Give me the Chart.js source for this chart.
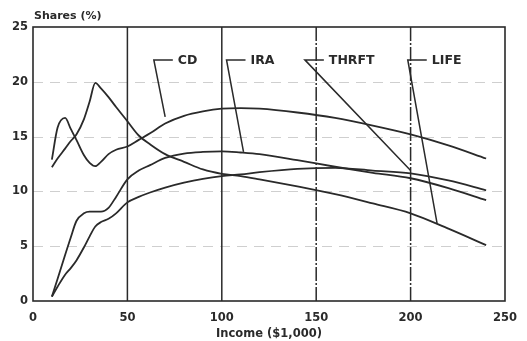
<!DOCTYPE html>
<html lang="en">
<head>
    <meta charset="UTF-8">
    <title>Shares by income</title>
    <style>
        body { margin: 0; background: #fff; }
    </style>
</head>
<body>
    <canvas id="myChart" width="527" height="341"></canvas>

    <script src="https://cdn.jsdelivr.net/npm/chart.js"></script>

    <script>
        // Income ($1,000) at which every curve is read
        const incomes = [10, 13, 17, 20, 23, 27, 30, 33, 36, 40, 44, 50, 56, 62, 70, 80, 90, 100, 110, 120, 140, 160, 180, 200, 220, 240];

        // Shares (%)
        const cd    = [12.9, 15.8, 16.7, 15.7, 14.7, 13.3, 12.6, 12.3, 12.7, 13.4, 13.8, 14.1, 14.7, 15.3, 16.2, 16.9, 17.3, 17.55, 17.6, 17.55, 17.2, 16.7, 16.0, 15.2, 14.2, 13.0];
        const ira   = [0.4, 2.0, 4.2, 5.8, 7.3, 8.0, 8.15, 8.15, 8.15, 8.5, 9.5, 11.1, 11.9, 12.4, 13.05, 13.45, 13.6, 13.65, 13.55, 13.4, 12.85, 12.25, 11.7, 11.2, 10.3, 9.2];
        const thrft = [0.4, 1.3, 2.4, 3.0, 3.7, 4.9, 5.9, 6.8, 7.2, 7.5, 8.0, 9.0, 9.5, 9.9, 10.35, 10.8, 11.15, 11.4, 11.55, 11.75, 12.05, 12.15, 11.9, 11.65, 11.0, 10.1];
        const life  = [12.2, 13.0, 13.9, 14.6, 15.2, 16.6, 18.2, 19.9, 19.4, 18.6, 17.7, 16.4, 15.1, 14.3, 13.4, 12.7, 12.0, 11.6, 11.4, 11.1, 10.45, 9.75, 8.9, 8.0, 6.6, 5.1];

        const xTicks = [0, 50, 100, 150, 200, 250];
        const yTicks = [0, 5, 10, 15, 20, 25];
        const refLines = [50, 100, 150, 200];

        // callout labels: name, where the elbow sits (income), and the point on the curve it touches
        const labelNames = ['CD', 'IRA', 'THRFT', 'LIFE'];
        const labelElbow = [64, 102.5, 144, 198.5];
        const labelTip = [[70, 16.8], [111.5, 13.6], [200, 11.9], [214, 7.1]];
        const labelShare = 22;

        const ink = '#2a2a2a';
        const tickFont = { family: 'DejaVu Sans', weight: 'bold', size: 11.5 };

        const toPoints = vals => incomes.map((x, i) => ({ x: x, y: vals[i] }));

        const chartDecor = {
            id: 'chartDecor',
            beforeDatasetsDraw(chart) {
                const { ctx, chartArea: a, scales: { x, y } } = chart;
                ctx.save();
                // faint dashed horizontal guides
                ctx.strokeStyle = '#cfcfcf';
                ctx.lineWidth = 1;
                ctx.setLineDash([10, 7]);
                [5, 10, 15, 20].forEach(v => {
                    const py = Math.round(y.getPixelForValue(v)) + 0.5;
                    ctx.beginPath();
                    ctx.moveTo(a.left, py);
                    ctx.lineTo(a.right, py);
                    ctx.stroke();
                });
                // vertical reference lines
                ctx.strokeStyle = ink;
                ctx.lineWidth = 1.5;
                refLines.forEach(v => {
                    ctx.setLineDash(v > 100 ? [14, 2, 2, 2] : []);
                    const px = x.getPixelForValue(v);
                    ctx.beginPath();
                    ctx.moveTo(px, a.top);
                    ctx.lineTo(px, a.bottom);
                    ctx.stroke();
                });
                ctx.restore();
            },
            afterDatasetsDraw(chart) {
                const { ctx, chartArea: a, scales: { x, y } } = chart;
                ctx.save();
                // frame
                ctx.strokeStyle = ink;
                ctx.lineWidth = 1.6;
                ctx.strokeRect(a.left, a.top, a.right - a.left, a.bottom - a.top);

                // callouts
                ctx.lineWidth = 1.5;
                ctx.font = 'bold 12.5px "DejaVu Sans"';
                ctx.fillStyle = ink;
                ctx.textBaseline = 'middle';
                labelNames.forEach((name, i) => {
                    const ex = x.getPixelForValue(labelElbow[i]);
                    const ey = y.getPixelForValue(labelShare);
                    const tx = x.getPixelForValue(labelTip[i][0]);
                    const ty = y.getPixelForValue(labelTip[i][1]);
                    ctx.beginPath();
                    ctx.moveTo(tx, ty);
                    ctx.lineTo(ex, ey);
                    ctx.lineTo(ex + 19, ey);
                    ctx.stroke();
                    ctx.fillText(name, ex + 24, ey + 1);
                });

                // y axis caption
                ctx.font = 'bold 11px "DejaVu Sans"';
                ctx.textAlign = 'left';
                ctx.fillText('Shares (%)', a.left + 1, 16);
                ctx.restore();
            }
        };

        new Chart(document.getElementById('myChart'), {
            type: 'line',
            data: {
                datasets: [
                    { label: 'CD', data: toPoints(cd) },
                    { label: 'IRA', data: toPoints(ira) },
                    { label: 'THRFT', data: toPoints(thrft) },
                    { label: 'LIFE', data: toPoints(life) }
                ]
            },
            options: {
                responsive: false,
                animation: false,
                layout: { padding: { top: 27, right: 19, left: 0, bottom: 0 } },
                plugins: {
                    legend: { display: false },
                    tooltip: { enabled: false }
                },
                elements: {
                    point: { radius: 0 },
                    line: { borderColor: ink, borderWidth: 1.8, cubicInterpolationMode: 'monotone', fill: false }
                },
                scales: {
                    x: {
                        type: 'linear',
                        min: 0,
                        max: 250,
                        afterBuildTicks: s => { s.ticks = xTicks.map(v => ({ value: v })); },
                        afterFit: s => { s.height = 40; },
                        grid: { display: false, drawTicks: false },
                        border: { display: false },
                        ticks: { font: tickFont, color: ink, padding: 10, maxRotation: 0 },
                        title: {
                            display: true,
                            text: 'Income ($1,000)',
                            font: tickFont,
                            color: ink,
                            padding: { top: 0, bottom: 0 }
                        }
                    },
                    y: {
                        min: 0,
                        max: 25,
                        afterBuildTicks: s => { s.ticks = yTicks.map(v => ({ value: v })); },
                        afterFit: s => { s.width = 33; },
                        grid: { display: false, drawTicks: false },
                        border: { display: false },
                        ticks: { font: tickFont, color: ink, padding: 5 }
                    }
                }
            },
            plugins: [chartDecor]
        });
    </script>
</body>
</html>
